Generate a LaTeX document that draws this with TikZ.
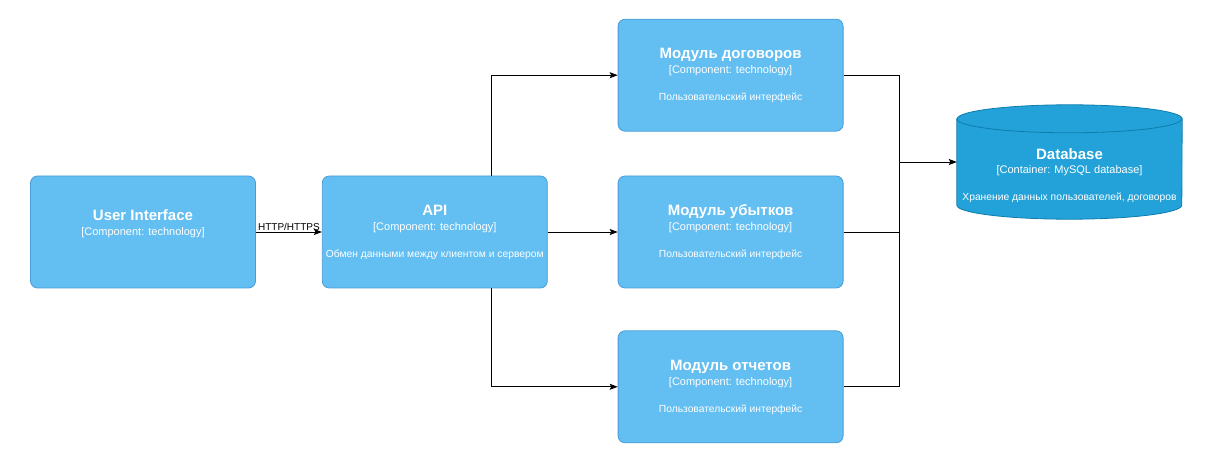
\documentclass[tikz,border=0pt]{standalone}
\usepackage{fontspec}
\setmainfont{Liberation Sans}
\usetikzlibrary{arrows.meta,positioning}
\definecolor{compfill}{HTML}{63BEF2}
\definecolor{compline}{HTML}{4A9CD8}
\definecolor{dbfill}{HTML}{23A2D9}
\definecolor{dbline}{HTML}{0E7DAD}

\begin{document}
\begin{tikzpicture}[x=1pt, y=1pt,
    comp/.style = {draw=compline, fill=compfill, line width=0.8pt, rounded corners=7pt,
                   minimum width=225pt, minimum height=112pt, inner sep=0pt},
    dbbox/.style = {minimum width=225pt, minimum height=114pt, inner sep=0pt},
    ttl/.style = {text=white, anchor=base, inner sep=0pt, font=\fontsize{15}{17}\selectfont\bfseries},
    sub/.style = {text=white, anchor=base, inner sep=0pt, font=\fontsize{11}{13}\selectfont},
    dsc/.style = {text=white, anchor=base, inner sep=0pt, font=\fontsize{10.3}{12}\selectfont},
    lbl/.style = {text=black, inner sep=1pt, font=\fontsize{10}{12}\selectfont},
    conn/.style = {draw=black, line width=0.8pt},
    arr/.style = {conn, -{Stealth[length=8pt, width=6pt, inset=1.5pt]}}]

    \useasboundingbox (0,0) rectangle (1216,-473);

    % Definizione dei blocchi
    \node[comp] (ui) at (143,-232) {};          % interfaccia utente
    \node[comp, right=66pt of ui] (api) {};     % API
    \node[comp, right=70pt of api] (mod2) {};   % modulo centrale
    \node[comp, above=44pt of mod2] (mod1) {};  % modulo in alto
    \node[comp, below=42pt of mod2] (mod3) {};  % modulo in basso
    \node[dbbox] (db) at (1069.5,-162) {};      % base di dati

    % Cilindro della base di dati
    \path[draw=dbline, fill=dbfill, line width=0.8pt]
      ([yshift=-14pt]db.north west) -- ([yshift=14pt]db.south west)
      arc[start angle=180, end angle=360, x radius=112.5pt, y radius=14pt]
      -- ([yshift=-14pt]db.north east)
      arc[start angle=0, end angle=180, x radius=112.5pt, y radius=14pt] -- cycle;
    \draw[dbline, line width=0.8pt] ([yshift=-14pt]db.north west)
      arc[start angle=180, end angle=360, x radius=112.5pt, y radius=14pt];

    % Testi dei blocchi
    \node[ttl] (ui-t) at ([yshift=-45pt]ui.north) {User Interface};
    \node[sub] (ui-s) at ([yshift=-60pt]ui.north) {[Component: technology]};

    \node[ttl] (api-t) at ([yshift=-40pt]api.north) {API};
    \node[sub] (api-s) at ([yshift=-55pt]api.north) {[Component: technology]};
    \node[dsc] (api-d) at ([yshift=-82pt]api.north) {Обмен данными между клиентом и сервером};

    \node[ttl] (mod1-t) at ([yshift=-40pt]mod1.north) {Модуль договоров};
    \node[sub] (mod1-s) at ([yshift=-55pt]mod1.north) {[Component: technology]};
    \node[dsc] (mod1-d) at ([yshift=-82pt]mod1.north) {Пользовательский интерфейс};

    \node[ttl] (mod2-t) at ([yshift=-40pt]mod2.north) {Модуль убытков};
    \node[sub] (mod2-s) at ([yshift=-55pt]mod2.north) {[Component: technology]};
    \node[dsc] (mod2-d) at ([yshift=-82pt]mod2.north) {Пользовательский интерфейс};

    \node[ttl] (mod3-t) at ([yshift=-40pt]mod3.north) {Модуль отчетов};
    \node[sub] (mod3-s) at ([yshift=-55pt]mod3.north) {[Component: technology]};
    \node[dsc] (mod3-d) at ([yshift=-82pt]mod3.north) {Пользовательский интерфейс};

    \node[ttl] (db-t) at ([yshift=2pt]db.center) {Database};
    \node[sub] (db-s) at ([yshift=-12pt]db.center) {[Container: MySQL database]};
    \node[dsc] (db-d) at ([yshift=-39pt]db.center) {Хранение данных пользователей, договоров};

    % Punti di snodo
    \coordinate (api-up) at ([xshift=57pt]api.north);
    \coordinate (api-down) at ([xshift=57pt]api.south);
    \coordinate (bus) at ([xshift=-57pt]db.west);

    % Collegamenti
    \draw[arr] (ui) -- node[lbl, above] (http) {HTTP/HTTPS} (api);
    \draw[arr] (api-up) |- (mod1.west);
    \draw[arr] (api) -- (mod2);
    \draw[arr] (api-down) |- (mod3.west);
    \draw[conn] (mod1.east) -| (bus);
    \draw[conn] (mod2.east) -| (bus);
    \draw[conn] (mod3.east) -| (bus);
    \draw[arr] (bus) -- (db.west);
\end{tikzpicture}
\end{document}
